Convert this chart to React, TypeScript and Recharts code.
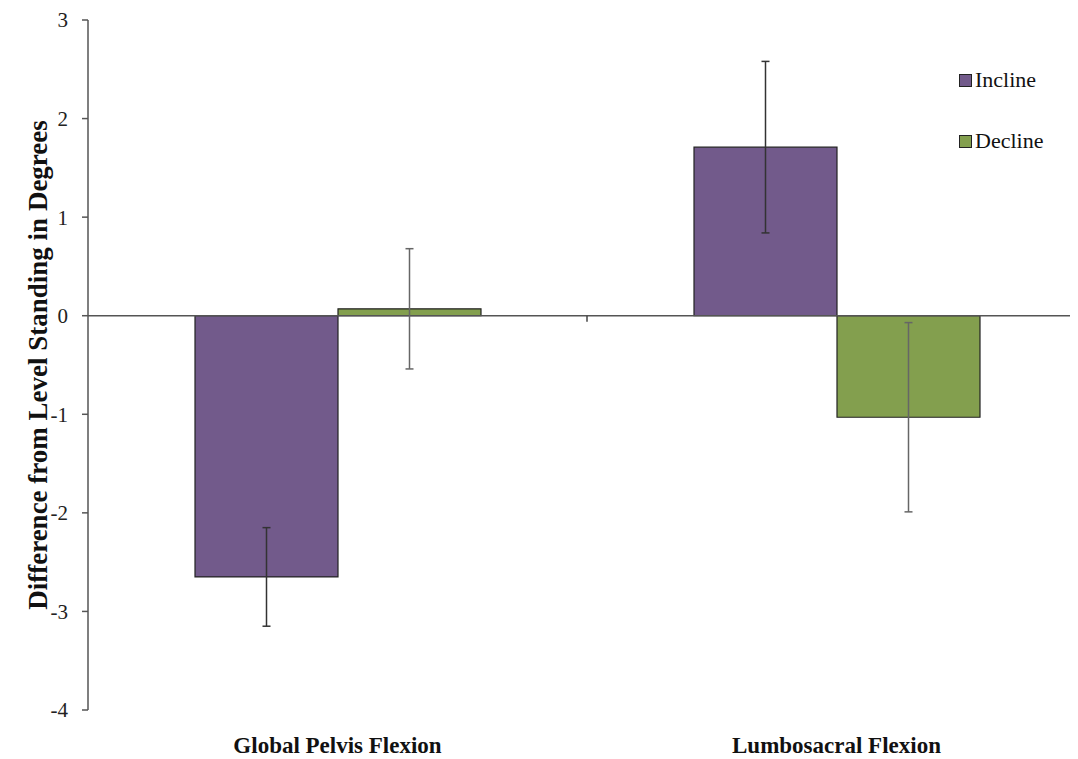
import {
  BarChart,
  Bar,
  XAxis,
  YAxis,
  ErrorBar,
  ReferenceLine,
} from "recharts";

const categories = ["Global Pelvis Flexion", "Lumbosacral Flexion"];
const incline = [-2.65, 1.71];
const inclineErr = [0.5, 0.87];
const decline = [0.07, -1.03];
const declineErr = [0.61, 0.96];
const yTicks = [-4, -3, -2, -1, 0, 1, 2, 3];

const INCLINE = "#725a8b";
const DECLINE = "#839f4e";
const FONT = "'Liberation Serif', 'Times New Roman', serif";

const data = categories.map((name, i) => ({
  name,
  incline: incline[i],
  inclineErr: inclineErr[i],
  decline: decline[i],
  declineErr: declineErr[i],
}));

const legendItems = [
  { label: "Incline", color: INCLINE },
  { label: "Decline", color: DECLINE },
];

// legend sits over the chart, so it takes no room from the plot
function LegendBox() {
  return (
    <div style={{ position: "absolute", left: 951, top: 57 }}>
      {legendItems.map((it) => (
        <div
          key={it.label}
          style={{ display: "flex", alignItems: "center", height: 30, marginBottom: 31 }}
        >
          <span
            style={{
              width: 11,
              height: 11,
              background: it.color,
              border: "1.5px solid #222",
              marginRight: 3,
            }}
          />
          <span style={{ fontFamily: FONT, fontSize: 22, color: "#111" }}>{it.label}</span>
        </div>
      ))}
    </div>
  );
}

function YTitle() {
  return (
    <text
      x={30}
      y={357}
      transform="rotate(-90, 30, 357)"
      textAnchor="middle"
      dominantBaseline="central"
      fontFamily={FONT}
      fontWeight="bold"
      fontSize={27}
      fill="#111"
    >
      Difference from Level Standing in Degrees
    </text>
  );
}

function MidTick({ viewBox }: any) {
  if (!viewBox) return null;
  const x = viewBox.x + viewBox.width / 2;
  return <line x1={x} x2={x} y1={viewBox.y} y2={viewBox.y + 6} stroke="#444" strokeWidth={1.5} />;
}

export default function App() {
  return (
    <div style={{ position: "relative", width: 1070, height: 751, overflow: "hidden" }}>
      <BarChart
        width={1078}
        height={751}
        data={data}
        margin={{ top: 12, right: 0, bottom: 9, left: 0 }}
        barCategoryGap={107}
        barGap={0}
        style={{ fontFamily: FONT }}
      >
        <XAxis
          dataKey="name"
          axisLine={false}
          tickLine={false}
          tickSize={0}
          tickMargin={27}
          height={40}
          tick={{ fontSize: 23, fontWeight: "bold", fill: "#111", fontFamily: FONT }}
        />
        <YAxis
          width={80}
          domain={[-4, 3]}
          ticks={yTicks}
          interval={0}
          axisLine={{ stroke: "#555", strokeWidth: 1.5 }}
          tickLine={{ stroke: "#555", strokeWidth: 1.5 }}
          tickSize={6}
          tickMargin={14}
          tick={{ fontSize: 21, fill: "#222", fontFamily: FONT }}
          label={<YTitle />}
        />
        <ReferenceLine y={0} stroke="#555" strokeWidth={1.5} label={<MidTick />} />
        <Bar dataKey="incline" fill={INCLINE} stroke="#222" strokeWidth={1.2} isAnimationActive={false}>
          <ErrorBar dataKey="inclineErr" width={4} stroke="#333" strokeWidth={1.5} isAnimationActive={false} />
        </Bar>
        <Bar dataKey="decline" fill={DECLINE} stroke="#222" strokeWidth={1.2} isAnimationActive={false}>
          <ErrorBar dataKey="declineErr" width={4} stroke="#666" strokeWidth={1.5} isAnimationActive={false} />
        </Bar>
      </BarChart>
      <LegendBox />
    </div>
  );
}
